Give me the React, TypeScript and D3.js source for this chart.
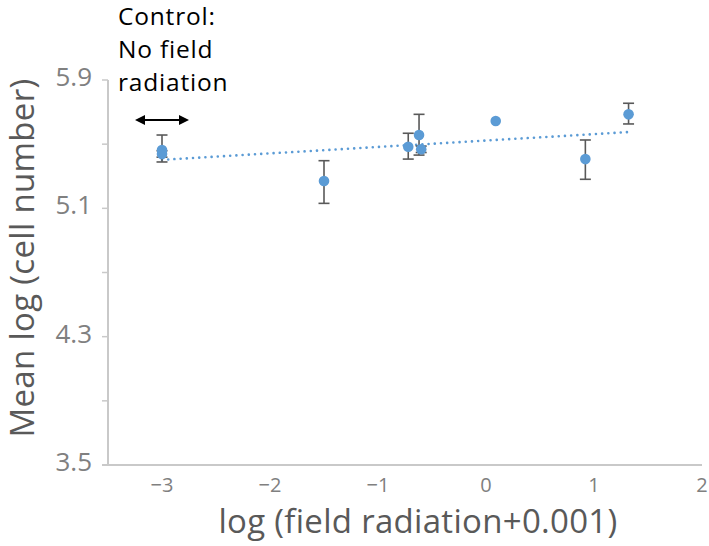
import React from "react";
import * as d3 from "d3";

const xValues = [-3, -3, -1.5, -0.72, -0.62, -0.6, 0.09, 0.92, 1.32];
const meanValues = [5.464, 5.439, 5.27, 5.484, 5.557, 5.468, 5.644, 5.407, 5.686];
const errPlus = [0.093, 0.02, 0.127, 0.084, 0.129, 0.02, 0, 0.119, 0.069];
const errMinus = [0.075, 0.02, 0.139, 0.077, 0.125, 0.02, 0, 0.126, 0.06];

const xTicks = [-3, -2, -1, 0, 1, 2];
const yMajorTicks = [3.5, 4.3, 5.1, 5.9];
const yAllTicks = [3.5, 3.9, 4.3, 4.7, 5.1, 5.5, 5.9];

const annotationLines = ["Control:", "No field", "radiation"];
const controlSpan = [-3.25, -2.75];
const controlArrowY = 5.65;

const xTitle = "log (field radiation+0.001)";
const yTitle = "Mean log (cell number)";

const W = 709;
const H = 546;
const FONT = "'Open Sans', 'Noto Sans', sans-serif";

export default function App() {
  const x = d3.scaleLinear().domain([-3.5, 2]).range([108, 702]);
  const y = d3.scaleLinear().domain([3.5, 5.9]).range([465, 80]);

  const pts = xValues.map((xv, i) => ({
    x: xv,
    y: meanValues[i],
    hi: meanValues[i] + errPlus[i],
    lo: meanValues[i] - errMinus[i],
  }));

  // Linear least-squares trendline
  const mx = d3.mean(xValues) as number;
  const my = d3.mean(meanValues) as number;
  let sxy = 0;
  let sxx = 0;
  xValues.forEach((xv, i) => {
    sxy += (xv - mx) * (meanValues[i] - my);
    sxx += (xv - mx) * (xv - mx);
  });
  const slope = sxy / sxx;
  const intercept = my - slope * mx;
  const [xmin, xmax] = d3.extent(xValues) as [number, number];
  const trend = d3
    .line<number>()
    .x((d) => x(d))
    .y((d) => y(intercept + slope * d))([xmin, xmax]);

  const axisColor = "#c9c9c9";
  const tickColor = "#808080";
  const titleColor = "#595959";
  const blue = "#5b9bd5";
  const errColor = "#595959";

  const ax0 = x(controlSpan[0]);
  const ax1 = x(controlSpan[1]);
  const ay = y(controlArrowY);
  const head = 10;

  return (
    <svg
      width={W}
      height={H}
      style={{ position: "absolute", left: 0, top: 0, background: "#fff" }}
    >
      <rect width={W} height={H} fill="#fff" />
      {/* y axis */}
      <line x1={x(-3.5)} x2={x(-3.5)} y1={y(5.9)} y2={y(3.5)} stroke={axisColor} strokeWidth={2} />
      {yAllTicks.map((t) => (
        <line key={t} x1={x(-3.5) - 6} x2={x(-3.5)} y1={y(t)} y2={y(t)} stroke={axisColor} strokeWidth={1.5} />
      ))}
      {/* x axis */}
      <line x1={x(-3.5) - 6} x2={x(2)} y1={y(3.5)} y2={y(3.5)} stroke={axisColor} strokeWidth={2} />

      {yMajorTicks.map((t) => (
        <text
          key={t}
          x={92}
          y={y(t) - 4}
          textAnchor="end"
          dominantBaseline="central"
          fontFamily={FONT}
          fontSize={26}
          fill={tickColor}
        >
          {t.toFixed(1)}
        </text>
      ))}
      {xTicks.map((t) => (
        <text
          key={t}
          x={x(t)}
          y={y(3.5) + 27}
          textAnchor="middle"
          fontFamily={FONT}
          fontSize={20}
          fill={tickColor}
        >
          {t < 0 ? "\u2212" + Math.abs(t) : String(t)}
        </text>
      ))}

      {/* titles */}
      <text
        x={418}
        y={533}
        textAnchor="middle"
        fontFamily={FONT}
        fontSize={33}
        letterSpacing={0.3}
        fill={titleColor}
      >
        {xTitle}
      </text>
      <text
        transform={`translate(34,258) rotate(-90)`}
        textAnchor="middle"
        fontFamily={FONT}
        fontSize={33}
        letterSpacing={0.3}
        fill={titleColor}
      >
        {yTitle}
      </text>

      {/* trendline */}
      <path
        d={trend || ""}
        fill="none"
        stroke={blue}
        strokeWidth={2.6}
        strokeLinecap="round"
        strokeDasharray="0.01 6.2"
      />

      {/* error bars */}
      {pts.map((p, i) =>
        p.hi - p.lo > 0 ? (
          <g key={"e" + i} stroke={errColor} strokeWidth={1.6}>
            <line x1={x(p.x)} x2={x(p.x)} y1={y(p.hi)} y2={y(p.lo)} />
            <line x1={x(p.x) - 5.5} x2={x(p.x) + 5.5} y1={y(p.hi)} y2={y(p.hi)} />
            <line x1={x(p.x) - 5.5} x2={x(p.x) + 5.5} y1={y(p.lo)} y2={y(p.lo)} />
          </g>
        ) : null
      )}

      {/* markers */}
      {pts.map((p, i) => (
        <circle key={"m" + i} cx={x(p.x)} cy={y(p.y)} r={5.3} fill={blue} />
      ))}

      {/* control annotation */}
      <line x1={ax0 + head} x2={ax1 - head} y1={ay} y2={ay} stroke="#000" strokeWidth={2} />
      <path d={`M${ax0},${ay} L${ax0 + head},${ay - 5} L${ax0 + head},${ay + 5} Z`} fill="#000" />
      <path d={`M${ax1},${ay} L${ax1 - head},${ay - 5} L${ax1 - head},${ay + 5} Z`} fill="#000" />
      {annotationLines.map((l, i) => (
        <text
          key={l}
          x={118}
          y={25 + i * 33}
          fontFamily={FONT}
          fontSize={24.5}
          letterSpacing={0.8}
          fill="#000"
        >
          {l}
        </text>
      ))}
    </svg>
  );
}
